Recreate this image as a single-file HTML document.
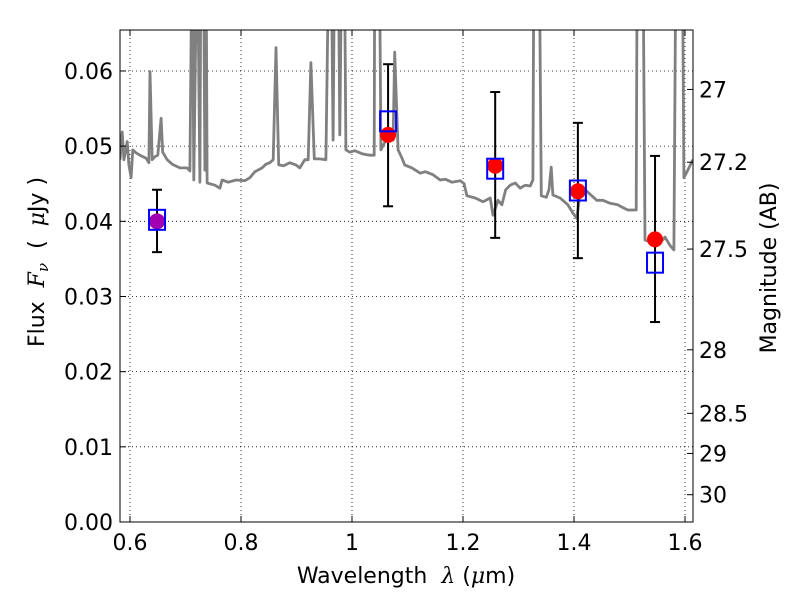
<!DOCTYPE html>
<html><head><meta charset="utf-8"><style>
html,body{margin:0;padding:0;background:#fff;}
svg{display:block;font-family:"DejaVu Sans","Liberation Sans",sans-serif;}
</style></head><body>
<svg id="chart" width="800" height="600" viewBox="0 0 800 600" xmlns="http://www.w3.org/2000/svg">
<defs><clipPath id="plotclip"><rect x="120" y="30" width="573" height="492"/></clipPath></defs>
<rect width="800" height="600" fill="#fff"/>
<g id="grid"></g>
<g id="spec" clip-path="url(#plotclip)"></g>
<g id="pts"></g>
<rect x="120" y="30" width="573" height="492" fill="none" stroke="#000" stroke-width="1"/>
<g id="axes"></g>
<text x="406" y="583" font-size="22" text-anchor="middle" style="white-space:pre" xml:space="preserve">Wavelength  <tspan font-style="italic" font-family="DejaVu Serif,serif">λ</tspan> (<tspan font-style="italic" font-family="DejaVu Serif,serif">μ</tspan>m)</text>
<text transform="translate(44,262) rotate(-90)" font-size="22" text-anchor="middle" style="white-space:pre" xml:space="preserve">Flux  <tspan font-style="italic" font-family="DejaVu Serif,serif">F</tspan><tspan font-style="italic" font-size="15" dy="4" font-family="DejaVu Serif,serif">ν</tspan><tspan dy="-4">  (  </tspan><tspan font-style="italic" font-family="DejaVu Serif,serif">μ</tspan>Jy )</text>
<text transform="translate(776,268) rotate(-90)" font-size="22" text-anchor="middle">Magnitude (AB)</text>
</svg>
<script>
const specWl=[0.582,0.586,0.589,0.595,0.598,0.602,0.605,0.611,0.618,0.629,0.634,0.636,0.640,0.645,0.650,0.656,0.659,0.667,0.676,0.690,0.703,0.708,0.712,0.715,0.721,0.726,0.728,0.732,0.735,0.737,0.739,0.753,0.762,0.766,0.777,0.791,0.807,0.816,0.825,0.838,0.845,0.852,0.858,0.863,0.868,0.877,0.888,0.899,0.906,0.915,0.921,0.926,0.932,0.942,0.953,0.959,0.962,0.966,0.969,0.975,0.978,0.982,0.986,0.989,0.996,1.005,1.018,1.032,1.040,1.041,1.049,1.052,1.061,1.068,1.074,1.077,1.083,1.090,1.095,1.108,1.123,1.132,1.146,1.159,1.168,1.180,1.195,1.202,1.207,1.222,1.236,1.249,1.254,1.263,1.270,1.277,1.285,1.294,1.303,1.312,1.321,1.326,1.328,1.337,1.341,1.350,1.355,1.359,1.362,1.375,1.389,1.398,1.405,1.411,1.420,1.432,1.441,1.452,1.465,1.479,1.486,1.497,1.512,1.514,1.524,1.528,1.541,1.555,1.564,1.573,1.580,1.584,1.595,1.598,1.605,1.614];
const specFlux=[0.0482,0.0519,0.0482,0.0506,0.0475,0.0458,0.0495,0.0491,0.0488,0.0484,0.0478,0.0599,0.0482,0.0486,0.0488,0.0537,0.0492,0.0482,0.0476,0.0471,0.0471,0.0467,0.08,0.0455,0.08,0.0452,0.08,0.08,0.0468,0.08,0.0451,0.0448,0.0444,0.0455,0.0452,0.0455,0.0454,0.0458,0.0466,0.0471,0.0476,0.0478,0.0482,0.0631,0.0475,0.0474,0.0478,0.0475,0.0471,0.0482,0.0482,0.0611,0.0483,0.0483,0.0482,0.08,0.08,0.0508,0.08,0.08,0.0515,0.08,0.08,0.0495,0.0492,0.0494,0.0490,0.0488,0.0488,0.08,0.08,0.0495,0.0508,0.0522,0.0508,0.0625,0.0495,0.0484,0.0475,0.0471,0.0464,0.0466,0.0462,0.0455,0.0456,0.0452,0.0454,0.0450,0.0434,0.0431,0.0426,0.0431,0.0408,0.0428,0.0422,0.0442,0.0448,0.0451,0.0444,0.0448,0.0447,0.0455,0.08,0.08,0.0434,0.0432,0.0442,0.0472,0.0435,0.0431,0.0422,0.0411,0.0404,0.0438,0.0442,0.0434,0.0428,0.0428,0.0424,0.0422,0.0419,0.0415,0.0415,0.08,0.08,0.0375,0.0372,0.0371,0.0379,0.0368,0.0362,0.08,0.08,0.0458,0.0468,0.0482];
const photWl=[0.6487,1.065,1.258,1.407,1.546];
const obsFlux=[0.0400,0.0515,0.0474,0.0440,0.0376];
const obsErrLo=[0.0359,0.0420,0.0378,0.0351,0.0266];
const obsErrHi=[0.0442,0.0609,0.0572,0.0531,0.0487];
const modelFlux=[0.0402,0.0533,0.0470,0.0441,0.0345];
const xTicks=[0.6,0.8,1.0,1.2,1.4,1.6];
const xTickLabels=["0.6","0.8","1","1.2","1.4","1.6"];
const yTicks=[0,0.01,0.02,0.03,0.04,0.05,0.06];
const yTickLabels=["0.00","0.01","0.02","0.03","0.04","0.05","0.06"];
const magTicks=[27,27.2,27.5,28,28.5,29,30];
const magTickLabels=["27","27.2","27.5","28","28.5","29","30"];

const NS="http://www.w3.org/2000/svg";
const X=v=>130+(v-0.6)*555;
const Y=v=>522-v*7517;
function mk(tag,attrs,parent){const e=document.createElementNS(NS,tag);for(const k in attrs)e.setAttribute(k,attrs[k]);parent.appendChild(e);return e;}
const grid=document.getElementById('grid'),axes=document.getElementById('axes'),spec=document.getElementById('spec'),pts=document.getElementById('pts');

xTicks.forEach((t,i)=>{
  const x=X(t);
  const g=mk('line',{x1:x,x2:x,y1:30,y2:522,stroke:'#000','stroke-width':0.8,'stroke-dasharray':'1,3'},grid);
  
  
  mk('line',{x1:x,x2:x,y1:522,y2:516,stroke:'#000'},axes);
  mk('line',{x1:x,x2:x,y1:30,y2:36,stroke:'#000'},axes);
  const tx=mk('text',{x:x,y:550,'font-size':22,'text-anchor':'middle'},axes);
  tx.textContent=xTickLabels[i];
  
  
});
yTicks.forEach((t,i)=>{
  const y=Y(t);
  const g=mk('line',{x1:120,x2:693,y1:y,y2:y,stroke:'#000','stroke-width':0.8,'stroke-dasharray':'1,3'},grid);
  
  
  mk('line',{x1:120,x2:126,y1:y,y2:y,stroke:'#000'},axes);
  const tx=mk('text',{x:113,y:y+8,'font-size':22,'text-anchor':'end'},axes);
  tx.textContent=yTickLabels[i];
  
  
});
magTicks.forEach((m,i)=>{
  const y=Y(Math.pow(10,(23.9-m)/2.5));
  mk('line',{x1:687,x2:693,y1:y,y2:y,stroke:'#000'},axes);
  const tx=mk('text',{x:699,y:y+8,'font-size':22},axes);
  tx.textContent=magTickLabels[i];
  
  
});

const d=specWl.map((w,i)=>(i?'L':'M')+X(w).toFixed(1)+','+Y(specFlux[i]).toFixed(1)).join(' ');
const sp=mk('path',{d:d,fill:'none',stroke:'#808080','stroke-width':2.8,'stroke-linejoin':'round'},spec);



photWl.forEach((w,i)=>{
  const x=X(w);
  const eb=mk('g',{},pts);
  
  
  mk('line',{x1:x,x2:x,y1:Y(obsErrLo[i]),y2:Y(obsErrHi[i]),stroke:'#000','stroke-width':2},eb);
  mk('line',{x1:x-5,x2:x+5,y1:Y(obsErrLo[i]),y2:Y(obsErrLo[i]),stroke:'#000','stroke-width':2},eb);
  mk('line',{x1:x-5,x2:x+5,y1:Y(obsErrHi[i]),y2:Y(obsErrHi[i]),stroke:'#000','stroke-width':2},eb);
  const c=mk('circle',{cx:x,cy:Y(obsFlux[i]),r:8,fill:i===0?'#a000b0':'#ff0000'},pts);
  
  
  const s=mk('rect',{x:x-8,y:Y(modelFlux[i])-10,width:16,height:20,fill:'none',stroke:'#0000ff','stroke-width':2},pts);
  
  
});
</script>
</body></html>
